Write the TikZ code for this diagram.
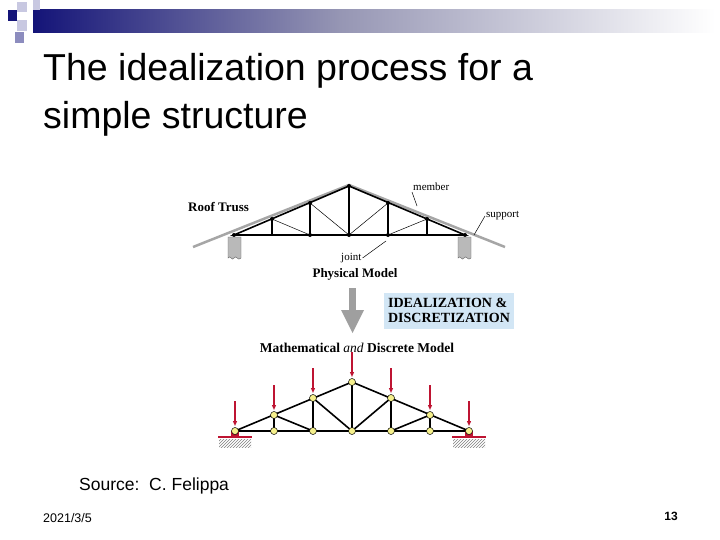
\documentclass[tikz,border=0pt]{standalone}
\usepackage{fontspec}
\setmainfont{Liberation Serif}
\newfontfamily\sansf{Liberation Sans}
\usetikzlibrary{patterns,arrows.meta,calc}
\definecolor{navy}{RGB}{20,20,120}
\definecolor{midb}{RGB}{150,150,180}
\definecolor{lsq}{RGB}{200,200,225}
\definecolor{msq}{RGB}{140,140,190}
\definecolor{boxblue}{RGB}{210,230,245}
\definecolor{loadred}{RGB}{190,20,50}
\definecolor{jointy}{RGB}{245,240,140}
\tikzset{
 bar/.style={line width=1.6pt,black},
 thinbar/.style={line width=0.5pt,black},
 jn/.style={circle,draw=black,fill=jointy,inner sep=0pt,minimum size=7pt,line width=0.5pt},
 pj/.style={circle,fill=black,inner sep=0pt,minimum size=4pt},
 lbl/.style={font=\fontsize{11}{12}\selectfont,inner sep=1pt},
 blbl/.style={font=\bfseries\fontsize{13}{14}\selectfont,inner sep=1pt},
 load/.style={loadred,line width=1.2pt,-{Triangle[length=5pt,width=4pt]}},
}
\begin{document}
\begin{tikzpicture}[x=1pt,y=-1pt]
\useasboundingbox (0,0) rectangle (720,540);
\fill[white] (0,0) rectangle (720,540);
% header
\shade[left color=navy,right color=midb] (33,10) rectangle (340,33);
\shade[left color=midb,right color=white] (340,10) rectangle (715,33);
\fill[lsq] (17,2) rectangle (27,12);
\fill[lsq] (33,0) rectangle (40,10);
\fill[navy] (8,10) rectangle (17,21);
\fill[lsq] (17,20) rectangle (27,31);
\fill[msq] (15,32) rectangle (24,43);
% title
\node[anchor=base west,font=\sansf\fontsize{37.5}{44}\selectfont,inner sep=0pt] (t1) at (43,81) {The idealization process for a};
\node[anchor=base west,font=\sansf\fontsize{37.5}{44}\selectfont,inner sep=0pt] (t2) at (43,129) {simple structure};
% physical model
\draw[gray!70,line width=2.5pt] (193,247) -- (349,185) -- (505,247);
\coordinate (A) at (234,235); \coordinate (B) at (465,235);
\coordinate (P) at (349,186);
\coordinate (b1) at (272,235); \coordinate (b2) at (310,235); \coordinate (b3) at (349,235);
\coordinate (b4) at (388,235); \coordinate (b5) at (427,235);
\coordinate (u1) at (272,219); \coordinate (u2) at (310,203); \coordinate (u4) at (388,203); \coordinate (u5) at (427,219);
\draw[bar] (A) -- (P) -- (B) -- cycle;
\draw[bar] (b1)--(u1) (b2)--(u2) (b3)--(P) (b4)--(u4) (b5)--(u5);
\draw[thinbar] (u1)--(b2) (u2)--(b3) (u4)--(b3) (u5)--(b4);
\foreach \p in {A,B,P,b2,b3,b4,u1,u2,u4,u5} \node[pj] at (\p) {};
\foreach \x in {228,458}{
 \fill[gray!55,draw=gray!80!black,line width=0.4pt] (\x,237) -- (\x+13,237) -- (\x+13,258) .. controls (\x+10,262) and (\x+8,254) .. (\x+6,258) .. controls (\x+4,262) and (\x+2,254) .. (\x,258) -- cycle;
}
\node[blbl,anchor=west] (rt) at (187,207) {Roof Truss};
\node[lbl,anchor=west] (mem) at (412,187) {member};
\node[lbl,anchor=west] (sup) at (485,216) {support};
\node[lbl,anchor=west] (jt) at (340,258) {joint};
\node[blbl] (pm) at (355,274) {Physical Model};
\coordinate (mt) at (417,206); \coordinate (st) at (474,235); \coordinate (jtt) at (386,241);
\draw[thinbar] (mem.south west) -- (mt);
\draw[thinbar] (sup.west) -- (st);
\draw[thinbar] (jt.east) -- (jtt);
% arrow
\fill[gray!75] (341,310) -- (364,310) -- (352.5,333) -- cycle;
\fill[gray!75] (349,288) rectangle (356,311);
% idealization box
\node[fill=boxblue,font=\bfseries\fontsize{14}{15.5}\selectfont,align=left,inner sep=3pt,minimum width=130pt,minimum height=36pt] (ib) at (449,310.5) {IDEALIZATION \&\\DISCRETIZATION};
\node[font=\bfseries\fontsize{13.5}{15}\selectfont] (mdm) at (357,348) {Mathematical \textmd{\itshape and} Discrete Model};
% discrete model
\coordinate (D0) at (235,431); \coordinate (D6) at (469,431);
\coordinate (DP) at (352,382);
\coordinate (d1) at (274,431); \coordinate (d2) at (313,431); \coordinate (d3) at (352,431); \coordinate (d4) at (391,431); \coordinate (d5) at (430,431);
\coordinate (e1) at (274,415); \coordinate (e2) at (313,398); \coordinate (e4) at (391,398); \coordinate (e5) at (430,415);
\draw[bar] (D0)--(DP)--(D6)--cycle;
\draw[bar] (d1)--(e1) (d2)--(e2) (d3)--(DP) (d4)--(e4) (d5)--(e5);
\draw[bar] (e1)--(d2) (e2)--(d3) (e4)--(d3) (e5)--(d4);
% supports
\foreach \x in {235,469}{
 \fill[pattern=north east lines,pattern color=gray] (\x-16,439) rectangle (\x+16,447);
 \draw[loadred,line width=1.2pt] (\x-17,437) -- (\x+17,437);
 \fill[loadred] (\x-4,431) rectangle (\x+4,437);
}
\foreach \p in {D0,D6,DP,d1,d2,d3,d4,d5,e1,e2,e4,e5} \node[jn] (n\p) at (\p) {};
\foreach \p in {D0,D6,DP,e1,e2,e4,e5} \draw[load] ($(\p)+(0,-30)$) -- ($(\p)+(0,-5)$);
% footer
\node[anchor=base west,font=\sansf\fontsize{17.5}{20}\selectfont,inner sep=0pt] (src) at (79,490) {Source:\ \ C. Felippa};
\node[anchor=base west,font=\sansf\fontsize{12.5}{14}\selectfont,inner sep=0pt] (dt) at (43,522) {2021/3/5};
\node[anchor=base east,font=\sansf\bfseries\fontsize{12}{14}\selectfont,inner sep=0pt] (pg) at (678,520) {13};
\end{tikzpicture}
\end{document}
